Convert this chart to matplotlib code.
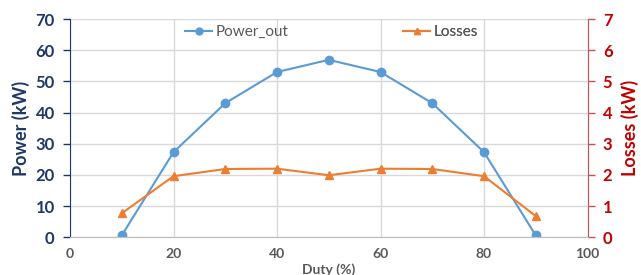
import matplotlib.pyplot as plt
from matplotlib.lines import Line2D

duty = [10, 20, 30, 40, 50, 60, 70, 80, 90]
power_out = [0.6, 27.3, 43.0, 53.0, 56.9, 53.0, 43.0, 27.3, 0.6]
losses = [0.77, 1.96, 2.19, 2.2, 1.99, 2.2, 2.19, 1.96, 0.68]

BLUE = "#5B9BD5"
ORANGE = "#ED7D31"
NAVY = "#1F3864"
DARKRED = "#C00000"
GRAY = "#595959"

plt.rcParams["font.family"] = ["Lato", "DejaVu Sans"]

fig = plt.figure(figsize=(6.41, 2.75), dpi=100)
ax = fig.add_axes([70 / 641, 1 - 237.3 / 275, (587.5 - 70) / 641, (237.3 - 19) / 275])
ax2 = ax.twinx()

ax.plot(duty, power_out, color=BLUE, marker="o", markersize=6, linewidth=1.5, label="Power_out")
ax2.plot(duty, losses, color=ORANGE, marker="^", markersize=6, linewidth=1.5, label="Losses")

ax.set_xlim(0, 100)
ax.set_ylim(0, 70)
ax2.set_ylim(0, 7)
ax.set_xticks(range(0, 101, 20))
ax.set_yticks(range(0, 71, 10))
ax2.set_yticks(range(0, 8))

ax.grid(True, color="#D9D9D9", linewidth=1)
ax.set_axisbelow(True)

for a in (ax, ax2):
    a.spines["top"].set_visible(False)
    a.spines["bottom"].set_color("#BFBFBF")
ax.spines["left"].set_color(NAVY)
ax.spines["right"].set_visible(False)
ax2.spines["left"].set_visible(False)
ax2.spines["right"].set_color("#D05050")

ax.tick_params(axis="x", length=0, pad=8, labelsize=10, labelcolor=GRAY)
ax.tick_params(axis="y", length=5, width=1, color=NAVY, pad=6, labelsize=12, labelcolor=NAVY)
ax2.tick_params(axis="y", length=5, width=1, color="#D05050", pad=6, labelsize=12, labelcolor=DARKRED)
for lab in ax.get_xticklabels() + ax.get_yticklabels() + ax2.get_yticklabels():
    lab.set_fontweight("bold")

ax.set_ylabel("Power (kW)", fontsize=13, fontweight="bold", color=NAVY, labelpad=4)
ax2.set_ylabel("Losses (kW)", fontsize=13, fontweight="bold", color=DARKRED, labelpad=6)
ax.set_xlabel("Duty (%)", fontsize=10, fontweight="bold", color=GRAY, labelpad=2)

entries = [
    (Line2D([], [], color=BLUE, marker="o", markersize=5, linewidth=1.5), "Power_out", 0.222),
    (Line2D([], [], color=ORANGE, marker="^", markersize=5, linewidth=1.5), "Losses", 0.643),
]
for handle, text, xpos in entries:
    leg = ax2.legend([handle], [text], loc="center left", bbox_to_anchor=(xpos, 0.94),
                     frameon=False, fontsize=11, borderaxespad=0, borderpad=0,
                     handlelength=1.8, handletextpad=0.2)
    leg.get_texts()[0].set_color(GRAY)
    ax2.add_artist(leg)

fig.savefig("out.png", dpi=100)
